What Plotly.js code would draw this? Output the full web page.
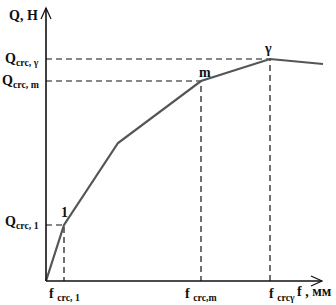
<!DOCTYPE html>
<html><head><meta charset="utf-8">
<script src="https://cdn.plot.ly/plotly-3.0.1.min.js"></script>
<style>html,body{margin:0;padding:0;background:#fff}#c{width:336px;height:305px}</style>
</head><body><div id="c"></div>
<script>
// Load–deflection diagram (f in chart units, Q in chart units)
const f = [0, 18, 72, 155, 224, 277];
const Q = [0, 56, 138, 200, 222, 217];
// key points: index in arrays, point label, Q-axis label, f-axis label
const keyIdx = [1, 3, 4];
const pointLabels = ['1', 'm', 'γ'];
const qLabels = ['Q<sub>crc, 1</sub>', 'Q<sub>crc, m</sub>', 'Q<sub>crc, γ</sub>'];
const fLabels = ['f <sub>crc, 1</sub>', 'f <sub>crc,m</sub>', 'f <sub>crcγ</sub>'];
const axisTitleY = 'Q, H';
const axisTitleX = 'f , мм';

const font = {family: '"Liberation Serif", "Times New Roman", serif', size: 14, color: '#111', weight: 'bold'};
const traces = [];
keyIdx.forEach((k) => {
  traces.push({x: [0, f[k], f[k]], y: [Q[k], Q[k], 0], mode: 'lines', hoverinfo: 'skip',
    line: {color: '#111', width: 1.2, dash: '6px,4px'}});
});
traces.push({x: f, y: Q, mode: 'lines', line: {color: '#555', width: 2.2}, hoverinfo: 'skip'});

const ann = [];
keyIdx.forEach((k, i) => {
  ann.push({x: -5, y: Q[k] + (i === 0 ? 3 : 0), xref: 'x', yref: 'y', text: qLabels[i], showarrow: false,
    xanchor: 'right', yanchor: 'middle', font: font});
  ann.push({x: f[k] + (i === 2 ? 12 : 0), y: -13, xref: 'x', yref: 'y', text: fLabels[i], showarrow: false,
    xanchor: 'center', yanchor: 'middle', font: font});
});
ann.push({x: f[1], y: Q[1] + 13, text: pointLabels[0], showarrow: false, font: font, xanchor: 'center', yanchor: 'middle'});
ann.push({x: f[3] + 4, y: Q[3] + 9, text: pointLabels[1], showarrow: false, font: font, xanchor: 'center', yanchor: 'middle'});
ann.push({x: f[4] - 2, y: Q[4] + 11, text: pointLabels[2], showarrow: false, font: font, xanchor: 'center', yanchor: 'middle'});
ann.push({x: -6, y: 266, text: axisTitleY, showarrow: false, font: font, xanchor: 'right', yanchor: 'middle'});
ann.push({x: 268, y: -10, text: axisTitleX, showarrow: false, font: font, xanchor: 'center', yanchor: 'middle'});

const shapes = [
  {type: 'line', x0: 0, y0: 0, x1: 0, y1: 273, line: {color: '#111', width: 1.6}},
  {type: 'path', path: 'M -5,262 L 0,273 L 5,262', line: {color: '#111', width: 1.2}},
  {type: 'line', x0: 0, y0: 0, x1: 276, y1: 0, line: {color: '#111', width: 1.6}},
  {type: 'path', path: 'M 265,5 L 276,0 L 265,-5', line: {color: '#111', width: 1.2}}
];

Plotly.newPlot('c', traces, {
  width: 336, height: 305, margin: {l: 0, r: 0, t: 0, b: 0},
  paper_bgcolor: '#fff', plot_bgcolor: '#fff', showlegend: false,
  xaxis: {range: [-46, 290], visible: false, fixedrange: true},
  yaxis: {range: [-24, 281], visible: false, fixedrange: true},
  annotations: ann, shapes: shapes
}, {displayModeBar: false, staticPlot: true});
</script></body></html>
